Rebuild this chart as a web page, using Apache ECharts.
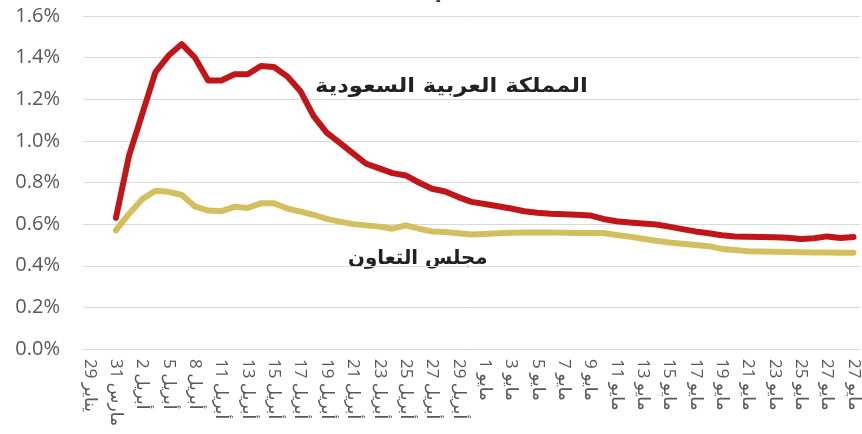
<!DOCTYPE html>
<html>
<head>
<meta charset="utf-8">
<script src="https://cdn.jsdelivr.net/npm/echarts@6/dist/echarts.min.js"></script>
<style>
html,body{margin:0;padding:0;background:#fff;}
#chart{width:862px;height:434px;}
</style>
</head>
<body>
<div id="chart"></div>
<script>
// Categories (labels shown every other category)
var categories = [
  "29 يناير","30 مارس","31 مارس","1 أبريل","2 أبريل","3 أبريل","5 أبريل","6 أبريل","8 أبريل","9 أبريل",
  "11 أبريل","12 أبريل","13 أبريل","14 أبريل","15 أبريل","16 أبريل","17 أبريل","18 أبريل","19 أبريل","20 أبريل",
  "21 أبريل","22 أبريل","23 أبريل","24 أبريل","25 أبريل","26 أبريل","27 أبريل","28 أبريل","29 أبريل","30 أبريل",
  "1 مايو","2 مايو","3 مايو","4 مايو","5 مايو","6 مايو","7 مايو","8 مايو","9 مايو","10 مايو",
  "11 مايو","12 مايو","13 مايو","14 مايو","15 مايو","16 مايو","17 مايو","18 مايو","19 مايو","20 مايو",
  "21 مايو","22 مايو","23 مايو","24 مايو","25 مايو","26 مايو","27 مايو","28 مايو","27 مايو"
];
// Saudi Arabia (%)
var saudiValues = [
  null,null,0.63,0.93,1.13,1.33,1.41,1.465,1.40,1.29,
  1.29,1.32,1.32,1.36,1.355,1.31,1.24,1.12,1.04,0.99,
  0.94,0.89,0.868,0.845,0.834,0.80,0.77,0.757,0.73,0.707,
  0.697,0.686,0.675,0.662,0.655,0.65,0.647,0.645,0.642,0.625,
  0.614,0.608,0.603,0.598,0.588,0.576,0.565,0.556,0.547,0.541,
  0.539,0.538,0.537,0.535,0.529,0.532,0.541,0.533,0.538
];
// GCC (%)
var gccValues = [
  null,null,0.57,0.65,0.72,0.76,0.755,0.74,0.685,0.665,
  0.662,0.683,0.678,0.70,0.70,0.675,0.66,0.645,0.625,0.612,
  0.60,0.594,0.588,0.578,0.594,0.578,0.565,0.562,0.556,0.55,
  0.553,0.556,0.559,0.56,0.56,0.56,0.559,0.557,0.557,0.557,
  0.548,0.54,0.53,0.52,0.512,0.506,0.50,0.494,0.481,0.476,
  0.47,0.469,0.467,0.466,0.465,0.464,0.464,0.463,0.463
];
var yTicks = {min: 0, max: 1.6, interval: 0.2};
var seriesNames = ["المملكة العربية السعودية", "مجلس التعاون"];

var FONT = "'Open Sans', 'DejaVu Sans', sans-serif";
var ARFONT = "'DejaVu Sans', sans-serif";
var chart = echarts.init(document.getElementById('chart'));
chart.setOption({
  backgroundColor: '#ffffff',
  animation: false,
  grid: {left: 83, right: 0, top: 16, bottom: 85, containLabel: false},
  xAxis: {
    type: 'category',
    data: categories,
    boundaryGap: true,
    axisLine: {show: true, lineStyle: {color: '#D9D9D9', width: 1}},
    axisTick: {show: false},
    axisLabel: {
      interval: 1,
      rotate: -90,
      margin: 10,
      color: '#595959',
      fontSize: 17,
      fontFamily: FONT
    },
    splitLine: {show: false}
  },
  yAxis: {
    type: 'value',
    min: yTicks.min, max: yTicks.max, interval: yTicks.interval,
    axisLine: {show: false},
    axisTick: {show: false},
    axisLabel: {
      margin: 23,
      color: '#595959',
      fontSize: 20,
      fontFamily: FONT,
      formatter: function (v) { return v.toFixed(1) + '%'; }
    },
    splitLine: {lineStyle: {color: '#D9D9D9', width: 1}}
  },
  series: [
    {
      name: seriesNames[0],
      type: 'line',
      data: saudiValues,
      showSymbol: false,
      smooth: false,
      lineStyle: {color: '#C0161A', width: 6, cap: 'round', join: 'round'},
      itemStyle: {color: '#C0161A'},
      z: 3
    },
    {
      name: seriesNames[1],
      type: 'line',
      data: gccValues,
      showSymbol: false,
      smooth: false,
      lineStyle: {color: '#D4BF5E', width: 6, cap: 'round', join: 'round'},
      itemStyle: {color: '#D4BF5E'},
      z: 2
    }
  ],
  graphic: [
    {type: 'text', x: 315, y: 77, scaleX: 1.13, style: {text: seriesNames[0], fill: '#222222', fontSize: 20, fontWeight: 'bold', fontFamily: ARFONT, textAlign: 'left', textVerticalAlign: 'top'}},
    {type: 'text', x: 348, y: 249, scaleX: 0.99, style: {text: seriesNames[1], fill: '#222222', fontSize: 20, fontWeight: 'bold', fontFamily: ARFONT, textAlign: 'left', textVerticalAlign: 'top'}},
    {type: 'text', x: 436, y: -6, style: {text: '-', fill: '#222', fontSize: 14, fontWeight: 'bold', fontFamily: FONT}}
  ]
});
</script>
</body>
</html>
